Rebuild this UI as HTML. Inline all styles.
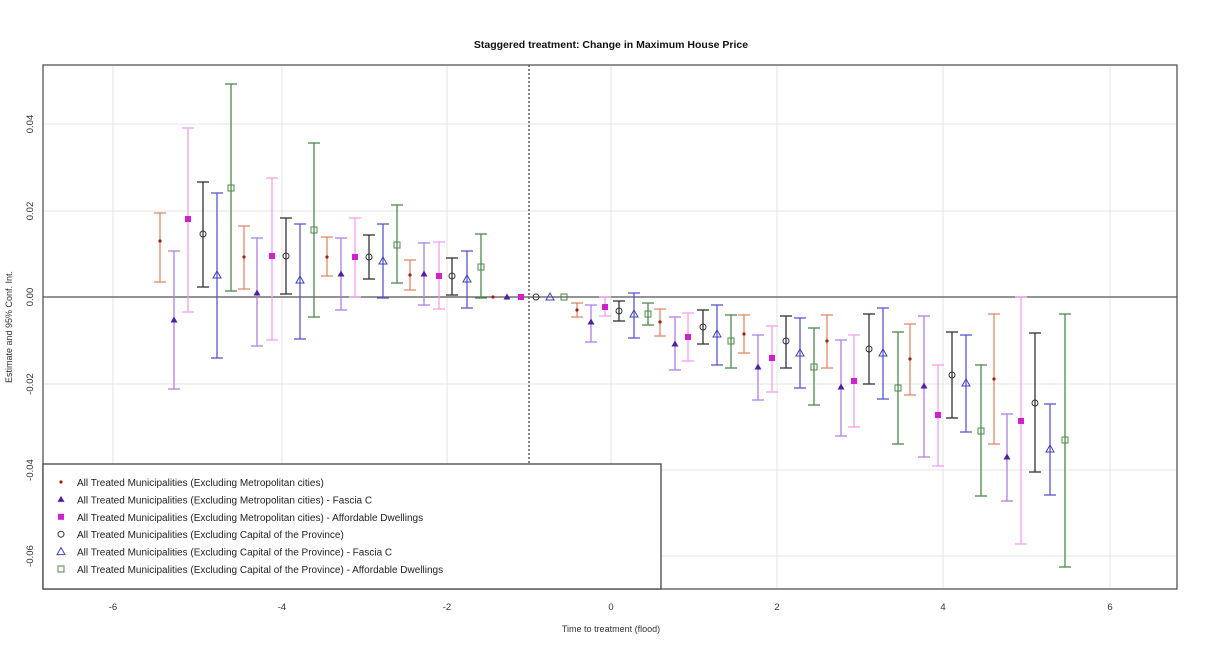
<!DOCTYPE html><html><head><meta charset="utf-8"><style>body{margin:0;background:#fff}svg{display:block;font-family:"Liberation Sans",sans-serif}</style></head><body>
<svg id="s" width="1218" height="666" xmlns="http://www.w3.org/2000/svg">
<text x="611" y="48" font-size="10.5" font-weight="bold" text-anchor="middle" fill="#111">Staggered treatment: Change in Maximum House Price</text>
<g id="grid" stroke="#e4e4e4" stroke-width="1"></g>
<line x1="43" y1="297" x2="1177" y2="297" stroke="#555" stroke-width="1.3"/>
<line x1="529" y1="65" x2="529" y2="589" stroke="#444" stroke-width="1.3" stroke-dasharray="2,2"/>
<g id="bars"></g>
<rect x="43" y="65" width="1134" height="524" fill="none" stroke="#555" stroke-width="1.3"/>
<g id="ax" font-size="9.5" fill="#333"></g>
<text x="611" y="632" font-size="9" text-anchor="middle" fill="#333">Time to treatment (flood)</text>
<text transform="translate(12,327) rotate(-90)" font-size="9" text-anchor="middle" fill="#333">Estimate and 95% Conf. Int.</text>
<rect x="43" y="464" width="618" height="125" fill="#fff" stroke="#444" stroke-width="1.3"/>
<g id="leg" font-size="10" fill="#222"></g>
</svg>
<script>
const NS="http://www.w3.org/2000/svg",s=(p,t,a,txt)=>{const e=document.createElementNS(NS,t);for(const k in a)e.setAttribute(k,a[k]);if(txt)e.textContent=txt;document.getElementById(p).appendChild(e);return e};
[113,282,447,611,777,943,1110].forEach((x,i)=>{s('grid','line',{x1:x,y1:65,x2:x,y2:589});s('ax','text',{x:x,y:610,'text-anchor':'middle'},String(-6+2*i))});
[[124,'0.04'],[211,'0.02'],[297,'0.00'],[384,'-0.02'],[470,'-0.04'],[556,'-0.06']].forEach(([y,t])=>{if(t!='0.00')s('grid','line',{x1:43,y1:y,x2:1177,y2:y});s('ax','text',{transform:`translate(33,${y}) rotate(-90)`,'text-anchor':'middle'},t)});
const C=[['#e08868','#a02010'],['#b080e8','#5020a0'],['#f0a0f0','#d020d0'],['#333','#333'],['#5858d0','#4040c0'],['#4a8a4a','#4a8a4a']];
const D=[[160,213,282,241],[174,251,389,320],[188,128,312,219],[203,182,287,234],[217,193,358,275],[231,84,291,188],[244,226,289,257],[257,238,346,293],[272,178,340,256],[286,218,294,256],[300,224,339,280],[314,143,317,230],[327,237,276,257],[341,238,310,274],[355,218,297,257],[369,235,279,257],[383,224,298,261],[397,205,283,245],[410,260,290,275],[424,243,305,274],[439,242,309,276],[452,258,295,276],[467,251,308,279],[481,234,298,267],[493,297,297,297],[507,297,297,297],[521,297,297,297],[536,297,297,297],[550,297,297,297],[564,297,297,297],[577,303,317,310],[591,305,342,322],[605,297,316,307],[619,301,321,311],[634,293,338,314],[648,303,325,314],[660,309,336,322],[675,317,370,344],[688,313,361,337],[703,310,344,327],[717,305,365,334],[731,315,368,341],[744,315,353,334],[758,335,400,367],[772,326,392,358],[786,316,368,341],[800,318,388,353],[814,328,405,367],[827,315,368,341],[841,340,436,387],[854,335,427,381],[869,314,384,349],[883,308,399,353],[898,332,444,388],[910,324,395,359],[924,316,457,386],[938,365,466,415],[952,332,418,375],[966,335,432,383],[981,365,496,431],[994,314,444,379],[1007,414,501,457],[1021,297,544,421],[1035,333,472,403],[1050,404,495,449],[1065,314,567,440]];
function mark(p,k,x,y){const c=C[k][1];if(k==0)s(p,'circle',{cx:x,cy:y,r:1.6,fill:c});else if(k==1)s(p,'polygon',{points:`${x},${y-3.5} ${x-3.5},${y+2.5} ${x+3.5},${y+2.5}`,fill:c});else if(k==2)s(p,'rect',{x:x-3,y:y-3,width:6,height:6,fill:c});else if(k==3)s(p,'circle',{cx:x,cy:y,r:3,fill:'none',stroke:c});else if(k==4)s(p,'polygon',{points:`${x},${y-4} ${x-4},${y+3} ${x+4},${y+3}`,fill:'none',stroke:c});else s(p,'rect',{x:x-3,y:y-3,width:6,height:6,fill:'none',stroke:c});}
D.forEach((d,i)=>{const k=i%6,[x,t,b,c]=d,col=C[k][0];if(b>t){s('bars','line',{x1:x,y1:t,x2:x,y2:b,stroke:col,'stroke-width':1.3});s('bars','line',{x1:x-6,y1:t,x2:x+6,y2:t,stroke:col,'stroke-width':1.3});s('bars','line',{x1:x-6,y1:b,x2:x+6,y2:b,stroke:col,'stroke-width':1.3});}mark('bars',k,x,c)});
const L=['All Treated Municipalities (Excluding Metropolitan cities)','All Treated Municipalities (Excluding Metropolitan cities) - Fascia C','All Treated Municipalities (Excluding Metropolitan cities) - Affordable Dwellings','All Treated Municipalities (Excluding Capital of the Province)','All Treated Municipalities (Excluding Capital of the Province) - Fascia C','All Treated Municipalities (Excluding Capital of the Province) - Affordable Dwellings'];
L.forEach((t,i)=>{const y=482+i*17.4;mark('leg',i,61,y);s('leg','text',{x:77,y:y+4},t)});
</script></body></html>
